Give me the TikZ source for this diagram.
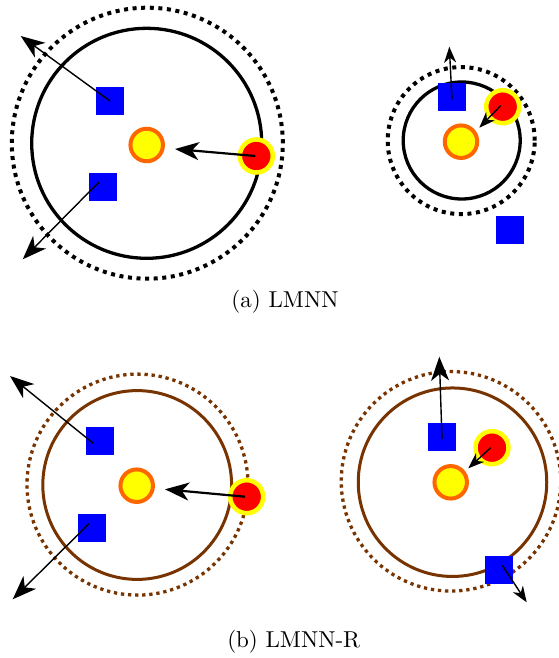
\documentclass[tikz,border=0pt]{standalone}
\usepackage{fontspec}
\usepackage{graphicx}
\usepackage{xcolor}
\usepackage{tikz}
\usetikzlibrary{arrows.meta,positioning}
\definecolor{ring}{HTML}{FF6600}
\definecolor{sun}{HTML}{FFFF00}
\definecolor{imp}{HTML}{FF0000}
\definecolor{cls}{HTML}{0000FF}
\definecolor{rust}{HTML}{773300}
\newcommand{\sub}[1]{\scalebox{2.3}{#1}}
\tikzset{
  anchorpt/.style={circle, draw=ring, fill=sun, line width=4pt, inner sep=0pt, minimum size=32.5pt},
  impostor/.style={circle, draw=sun, fill=imp, line width=4.5pt, inner sep=0pt, minimum size=33pt},
  other/.style={rectangle, fill=cls, inner sep=0pt, minimum size=28pt},
  margin/.style={circle, draw=black, line width=3.3pt, inner sep=0pt},
  outer/.style={circle, draw=black, line width=4pt, dash pattern=on 4pt off 4.6pt, inner sep=0pt},
  bmargin/.style={circle, draw=rust, line width=3pt, inner sep=0pt},
  bouter/.style={circle, draw=rust, line width=3.3pt, dash pattern=on 3.3pt off 3.8pt, inner sep=0pt},
  push/.style={line width=1.4pt, arrows={-Stealth[length=24pt 0, width=18pt 0, inset=7pt]}},
  pull/.style={line width=2.2pt, arrows={-Stealth[length=24pt 0, width=18pt 0, inset=7pt]}},
  small/.style={line width=1.4pt, arrows={-Stealth[length=16pt 0, width=12pt 0, inset=5pt]}},
  sublabel/.style={inner sep=0pt}
}
\begin{document}
\begin{tikzpicture}[x=1pt, y=-1pt]
 \useasboundingbox (0,0) rectangle (559,658);
 % (a) left
 \node[outer, minimum size=271pt] (ao1) at (147.3,143.2) {};
 \node[margin, minimum size=230pt] (am1) at (146.7,143.3) {};
 \node[anchorpt] (ax1) at (146.7,145) {};
 \node[impostor] (ai1) at (256.3,156) {};
 \node[other] (as1) at (110,101) {};
 \node[other] (as2) at (103,187) {};
 \coordinate (at1) at (20.7,36);
 \coordinate (at2) at (22.7,259.3);
 \coordinate (at3) at (175,149);
 \draw[push] (as1.center) -- (at1);
 \draw[push] ([xshift=-4pt,yshift=5pt]as2.center) -- (at2);
 \draw[pull] ([xshift=-1pt]ai1.center) -- (at3);
 % (a) right
 \node[outer, minimum size=147pt] (ao2) at (461.2,140.6) {};
 \node[margin, minimum size=117pt] (am2) at (461.7,140.5) {};
 \node[anchorpt] (ax2) at (461,141.7) {};
 \node[impostor] (ai2) at (502.7,106.7) {};
 \node[other] (as3) at (452,96.7) {};
 \node[other] (as4) at (510,229.7) {};
 \coordinate (at4) at (449.3,46.7);
 \coordinate (at5) at (479.3,127.7);
 \draw[small] ([yshift=-2.7pt]as3.center) -- (at4);
 \draw[small] ([xshift=-2pt,yshift=1pt]ai2.center) -- (at5);
 \node[sublabel] (capa) at (285,301.5) {\sub{(a) LMNN}};
 % (b) left
 \node[bouter, minimum size=221pt] (bo1) at (137.5,484.6) {};
 \node[bmargin, minimum size=188.8pt] (bm1) at (137.2,485) {};
 \node[anchorpt] (bx1) at (136.7,485.7) {};
 \node[impostor] (bi1) at (246.7,496.7) {};
 \node[other] (bs1) at (100,440.8) {};
 \node[other] (bs2) at (92,528) {};
 \coordinate (bt1) at (10,376);
 \coordinate (bt2) at (12.7,599.3);
 \coordinate (bt3) at (165,489.3);
 \draw[push] ([xshift=-6.7pt,yshift=-2.5pt]bs1.center) -- (bt1);
 \draw[push] ([xshift=-3pt,yshift=4.3pt]bs2.center) -- (bt2);
 \draw[pull] ([xshift=-1.7pt]bi1.center) -- (bt3);
 % (b) right
 \node[bouter, minimum size=219.5pt] (bo2) at (451,481.3) {};
 \node[bmargin, minimum size=188.5pt] (bm2) at (452.5,482.2) {};
 \node[anchorpt] (bx2) at (450.7,482.3) {};
 \node[impostor] (bi2) at (492,447.7) {};
 \node[other] (bs3) at (442,436.7) {};
 \node[other] (bs4) at (499,569.7) {};
 \coordinate (bt4) at (439.3,356.7);
 \coordinate (bt5) at (526.7,602.3);
 \coordinate (bt6) at (468.3,468.3);
 \draw[push] ([yshift=-2.4pt]bs3.center) -- (bt4);
 \draw[small] ([xshift=3.3pt,yshift=4.3pt]bs4.center) -- (bt5);
 \draw[small] ([xshift=-1.3pt]bi2.center) -- (bt6);
 \node[sublabel] (capb) at (293.7,641.5) {\sub{(b) LMNN-R}};
\end{tikzpicture}
\end{document}
